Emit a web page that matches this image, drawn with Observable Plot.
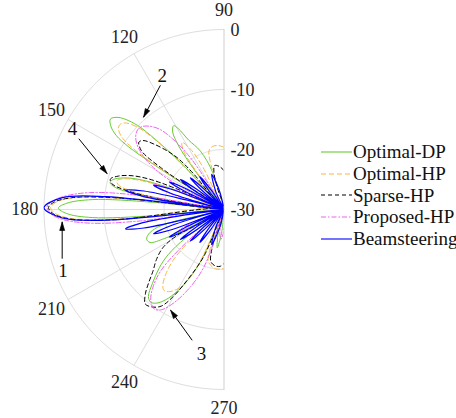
<!DOCTYPE html>
<html><head><meta charset="utf-8">
<script src="https://cdn.jsdelivr.net/npm/d3@7"></script>
<script src="https://cdn.jsdelivr.net/npm/@observablehq/plot@0.6"></script>
<style>
body{margin:0;background:#fff;}
#chart{position:relative;width:456px;height:418px;overflow:hidden;font-family:"Liberation Serif","Times New Roman",serif;}
#legend{position:absolute;left:321px;top:141px;}
.row{display:flex;align-items:center;height:21.8px;font-size:19px;color:#111;white-space:nowrap;}
.row svg{width:31px;height:10px;margin-right:1px;}
</style>
</head><body><div id="chart"><div id="legend"></div></div>
<script>
// Series names and styles
const seriesNames = ["Optimal-DP","Optimal-HP","Sparse-HP","Proposed-HP","Beamsteering"];
const seriesColors = ["#66cc33","#f5b945","#000000","#f060f0","#0000ff"];
const seriesDash = [null,"5,3","4,3","5,2,1.5,2",null];

// [angle (deg), gain (dB)]
const optimalDP = [
[103,-30],[107,-23.5],[112,-19.5],[117,-17],[119.5,-14.5],[121,-13.7],[123.5,-14.5],[125.5,-17],[126.8,-22],
[129.5,-30],
[132.5,-20],[134,-15],[135.5,-10.5],[137,-8.3],[139,-6.6],[141.4,-5.8],[143.5,-6.5],[145.5,-8.2],[146.7,-11],[147.3,-15.5],[147.8,-21],
[152,-30],
[158.5,-20],[160.5,-15],[162.5,-12.5],[165,-10.8],[166.8,-10.5],[168.5,-11.5],[170,-15],[171,-22],
[172.5,-30],
[174.2,-18],[175.7,-8],[177.7,-3.8],[179.5,-2.4],[181.5,-3.8],[183.5,-8],[185,-18],
[188.5,-30],
[193.5,-22],[195,-18.5],[198,-16.8],[201,-16.2],[204,-16.5],[206,-19],[207.5,-24],
[211,-30],
[216.5,-22],[219,-18],[222,-15.5],[226,-12.8],[229,-10.8],[231.6,-10.3],[234,-10.7],[237,-12],[240.5,-14.5],[243.5,-17.5],[246,-21],
[250,-30],
[256,-26],[260,-23.5],[264,-26],
[268,-30]
];
const optimalHP = [
[90,-19.6],[95,-19.3],[100,-19.3],[104,-19.8],[106,-21.5],
[110,-30],
[116.5,-22],[119,-18.5],[122,-16.8],[124.5,-18],[126,-22],
[129,-30],
[133,-20],[134.5,-14],[136.5,-10],[139,-8],[141,-7.6],[143,-8],[145,-9.5],[146.5,-13],[147.3,-19],
[152,-30],
[159,-20],[161,-15],[163,-12.5],[165,-11.5],[167,-12],[169,-15],[170.5,-21],
[172.5,-30],
[173.8,-14],[175.5,-5],[177.5,-2],[179.4,-1.1],[181.5,-2],[183.6,-5],[185.4,-14],
[190,-30],
[222.5,-22],[225,-18],[228,-15.5],[231,-13.8],[233.5,-13.2],[236.5,-13.6],[240,-14.8],[243,-16.8],[245.5,-21],
[248,-30],
[250.5,-23],[253,-21],[258,-20.3],[263,-20],[270,-20.2]
];
const sparseHP = [
[90,-23.5],[96,-22.8],[102,-22.5],[105,-23.5],[107,-26],
[112,-30],
[130.5,-22],[132,-18.5],[134,-16.5],[137,-14],[139.5,-12.3],[141.6,-11.9],[143.5,-12.5],[145,-13.5],[146.5,-17.5],[147.3,-22],
[151,-30],
[156.5,-21],[158,-16.3],[160,-13.5],[162.5,-11.5],[165,-10.4],[167,-10.8],[169,-13.5],[170.5,-19],
[172.5,-30],
[173.8,-12],[175.6,-4.5],[177.6,-1.6],[179.4,-0.75],[181.5,-1.6],[183.6,-4.5],[185.4,-12],
[195,-30],
[209,-21],[212,-18],[216.5,-16],[221,-14.3],[224.5,-12.3],[227,-10.8],[230.2,-9.5],[233.5,-9.8],[237,-10.8],[240,-13.5],[242.5,-16.7],[245,-19.5],[247,-22],
[249.5,-30],
[253,-23],[256,-21],[261,-20.5],[266,-20.5],[270,-21]
];
const proposedHP = [
[118,-30],
[122,-22],[124,-18],[126,-15.5],[128.5,-13],[131.5,-11.5],[134.5,-10.6],[137,-10.4],[140,-10.8],[143,-11.8],[146,-13.5],[149,-16],[151,-18.5],[152.5,-23],
[155,-30],
[158,-22],[160.5,-17.5],[163,-20],[165,-25],
[168.5,-30],
[170.5,-16],[172.8,-7.5],[175.5,-3],[177.5,-1.2],[179.3,-0.5],[181.5,-1.2],[183.5,-3],[185.8,-7.5],[187.8,-16],
[192,-30],
[202.5,-24],[205.5,-21.5],[208.5,-24],
[213,-30],
[221,-22],[224,-15.5],[227.5,-12.5],[231,-10.6],[234.8,-9.75],[238,-10.3],[242,-12.5],[246.5,-15.9],[250,-19],[252,-22],
[254.5,-30],
[260,-26],[264,-25],[268,-26],[270,-27]
];
const beamsteering = [
[98,-30],[103.6,-26.8],[109.3,-23.8],[114.9,-26.8],
[120.5,-30],[123.4,-26.2],[126.3,-23.2],[129.1,-26.2],
[132,-30],[134.4,-25.3],[136.8,-22.3],[139.1,-25.3],
[141.5,-30],[143.5,-24.2],[145.5,-21.2],[147.5,-24.2],
[149.5,-30],[151.4,-22.8],[153.25,-19.8],[155.1,-22.8],
[157,-30],[157.8,-27.8],[159,-20.6],[161,-17.6],[163,-20.6],[164.2,-27.8],
[165,-30],[165.8,-23.5],[167,-16.3],[168.9,-13.3],[170.8,-16.3],[172,-23.5],
[172.6,-30],[173.8,-10.2],[175.8,-3],[179.4,0],[183,-3],[185.2,-10.2],
[187,-30],[188,-23.5],[189.2,-16.3],[191.1,-13.3],[193,-16.3],[194.2,-23.5],
[195,-30],[195.8,-27.8],[197,-20.6],[199,-17.6],[201,-20.6],[202.2,-27.8],
[203,-30],[204.9,-22.8],[206.75,-19.8],[208.6,-22.8],
[210.5,-30],[212.5,-24.2],[214.5,-21.2],[216.5,-24.2],
[218.5,-30],[220.9,-25.3],[223.2,-22.3],[225.6,-25.3],
[228,-30],[230.9,-26.2],[233.7,-23.2],[236.6,-26.2],
[239.5,-30],[245.1,-26.8],[250.7,-23.8],[256.4,-26.8],
[262,-30]
];
const seriesData = [optimalDP, optimalHP, sparseHP, proposedHP, beamsteering];

// Axes
const rMin = -30, rMax = 0;
const ringTicks = [-20, -10, 0];
const radialLabels = [0, -10, -20, -30];
const spokeAngles = [120, 150, 180, 210, 240];
const angleLabels = [90, 120, 150, 180, 210, 240, 270];

// Annotations: label position and arrow (from -> to), in plot units
const annotText = ["2","4","1","3"];
const annotAt = [[-10.3,22.3],[-25.25,13.5],[-26.85,-10.2],[-3.75,-24]];
const annotFrom = [[-10.6,20.7],[-24.2,11.8],[-26.97,-8.2],[-5.3,-21.8]];
const annotTo = [[-13.4,15.4],[-19.5,6.0],[-26.97,-2.1],[-8.9,-16.8]];

const rad = d => d * Math.PI / 180;
const rr = db => Math.max(db, rMin) - rMin;
const px = (a, db) => rr(db) * Math.cos(rad(a));
const py = (a, db) => rr(db) * Math.sin(rad(a));

const arcAngles = d3.range(90, 270.01, 1);
const rings = ringTicks.flatMap(t => arcAngles.map(a => ({t, a})));

// arrowhead triangles (length 1.4 units, half-width 0.42 units; 1 unit = 6 px)
const heads = annotText.flatMap((t, i) => {
  const [x1, y1] = annotFrom[i], [x2, y2] = annotTo[i];
  const L = Math.hypot(x2 - x1, y2 - y1), ux = (x2 - x1) / L, uy = (y2 - y1) / L;
  const bx = x2 - 1.4 * ux, by = y2 - 1.4 * uy;
  return [[x2, y2], [bx - 0.42 * uy, by + 0.42 * ux], [bx + 0.42 * uy, by - 0.42 * ux], [x2, y2]].map(p => ({i, x: p[0], y: p[1]}));
});

const font = '"Liberation Serif","Times New Roman",serif';
const marks = [
  Plot.line(rings, {x: d => px(d.a, d.t), y: d => py(d.a, d.t), z: "t", stroke: "#dddddd", strokeWidth: 1}),
  Plot.link(spokeAngles, {x1: 0, y1: 0, x2: a => px(a, rMax), y2: a => py(a, rMax), stroke: "#dddddd", strokeWidth: 1}),
  Plot.link([90], {x1: 0, y1: -30, x2: 0, y2: 30, stroke: "#cfcfcf", strokeWidth: 1}),
];
seriesData.forEach((s, i) => {
  marks.push(Plot.line(s, {x: d => px(d[0], d[1]), y: d => py(d[0], d[1]), curve: "catmull-rom",
    stroke: seriesColors[i], strokeWidth: i === 4 ? 1.2 : 1, strokeDasharray: seriesDash[i], clip: true}));
});
marks.push(
  Plot.text(radialLabels, {x: 0, y: t => rr(t), text: t => String(t), textAnchor: "start", dx: 6.5, dy: 1, fontSize: 18, fontFamily: font, fill: "#222"}),
  Plot.text(angleLabels, {x: a => px(a, 3.2), y: a => py(a, 3.2), text: a => String(a), fontSize: 18, fontFamily: font, fill: "#222"}),
  Plot.link(annotText.map((t, i) => i), {x1: i => annotFrom[i][0], y1: i => annotFrom[i][1], x2: i => annotTo[i][0], y2: i => annotTo[i][1], stroke: "#000", strokeWidth: 1}),
  Plot.line(heads, {x: "x", y: "y", z: "i", fill: "#000", stroke: "#000", strokeWidth: 0.6}),
  Plot.text(annotText.map((t, i) => i), {x: i => annotAt[i][0], y: i => annotAt[i][1], text: i => annotText[i], fontSize: 19, fontFamily: font, fill: "#111"})
);

const chart = Plot.plot({
  width: 456, height: 418,
  marginLeft: 43.5, marginRight: 232.5, marginTop: 29, marginBottom: 29,
  x: {domain: [-30, 0], axis: null},
  y: {domain: [-30, 30], axis: null},
  style: {background: "transparent", overflow: "visible"},
  marks
});
chart.style.position = "absolute";
chart.style.left = "0";
chart.style.top = "0";
document.getElementById("chart").prepend(chart);

const legend = document.getElementById("legend");
seriesNames.forEach((name, i) => {
  const row = document.createElement("div");
  row.className = "row";
  row.innerHTML = `<svg viewBox="0 0 31 10"><line x1="0" y1="5" x2="31" y2="5" stroke="${seriesColors[i]}" stroke-width="1.1" ${seriesDash[i] ? `stroke-dasharray="${seriesDash[i]}"` : ""}/></svg><span>${name}</span>`;
  legend.appendChild(row);
});
</script>
</body></html>
